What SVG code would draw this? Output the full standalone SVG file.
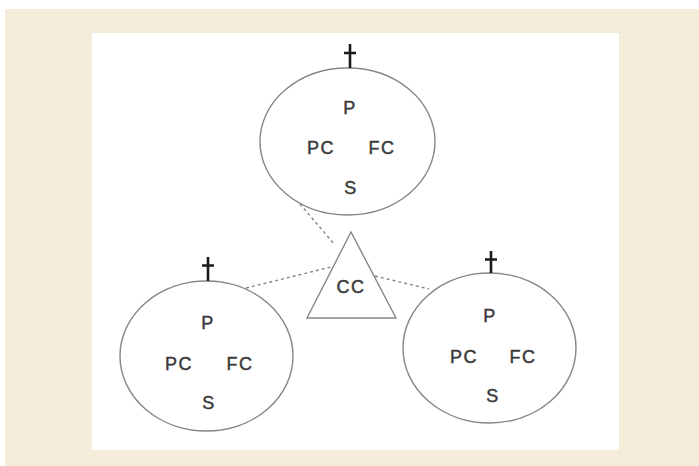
<svg xmlns="http://www.w3.org/2000/svg" width="699" height="466" viewBox="0 0 699 466">
  <style>
    .ring { fill: none; stroke: #8c8482; stroke-width: 1.4; }
    .cross { stroke: #1a1a1a; stroke-width: 2.6; fill: none; }
    .link { stroke: #8c8482; stroke-width: 1.4; stroke-dasharray: 3 3; fill: none; }
    .lbl { font-family: "Liberation Sans", Arial, sans-serif; font-size: 18px; fill: #3a3a3a; stroke: #3a3a3a; stroke-width: 0.45; text-anchor: middle; dominant-baseline: central; letter-spacing: 1.5px; }
  </style>
  <rect x="0" y="0" width="699" height="466" fill="#ffffff"/>
  <rect x="5" y="9" width="694" height="457" fill="#f4ecda"/>
  <rect x="92" y="33" width="527" height="417" fill="#ffffff"/>

  <g id="connectors">
    <line class="link" x1="300" y1="204" x2="335" y2="245"/>
    <line class="link" x1="246" y1="288" x2="331" y2="267"/>
    <line class="link" x1="375" y1="276" x2="429" y2="289"/>
  </g>

  <g id="cc">
    <polygon class="ring" points="351,232 307,318 396,318"/>
    <text class="lbl" x="351" y="287">CC</text>
  </g>

  <g id="top">
    <ellipse class="ring" cx="347.5" cy="141.5" rx="87.5" ry="73.5"/>
    <path class="cross" d="M350,44 V68 M344,53 H356"/>
    <text class="lbl" x="350" y="108">P</text>
    <text class="lbl" x="321" y="148">PC</text>
    <text class="lbl" x="382" y="148">FC</text>
    <text class="lbl" x="351" y="188">S</text>
  </g>

  <g id="left">
    <ellipse class="ring" cx="206.5" cy="356" rx="86.5" ry="75"/>
    <path class="cross" d="M208,257 V281 M202,265.5 H214"/>
    <text class="lbl" x="208" y="323">P</text>
    <text class="lbl" x="179" y="364">PC</text>
    <text class="lbl" x="240" y="364">FC</text>
    <text class="lbl" x="209" y="403">S</text>
  </g>

  <g id="right">
    <ellipse class="ring" cx="489.5" cy="348" rx="86.5" ry="75"/>
    <path class="cross" d="M491,251 V273 M485,259.5 H497"/>
    <text class="lbl" x="490" y="316">P</text>
    <text class="lbl" x="464" y="357">PC</text>
    <text class="lbl" x="523" y="357">FC</text>
    <text class="lbl" x="493" y="396">S</text>
  </g>
</svg>
